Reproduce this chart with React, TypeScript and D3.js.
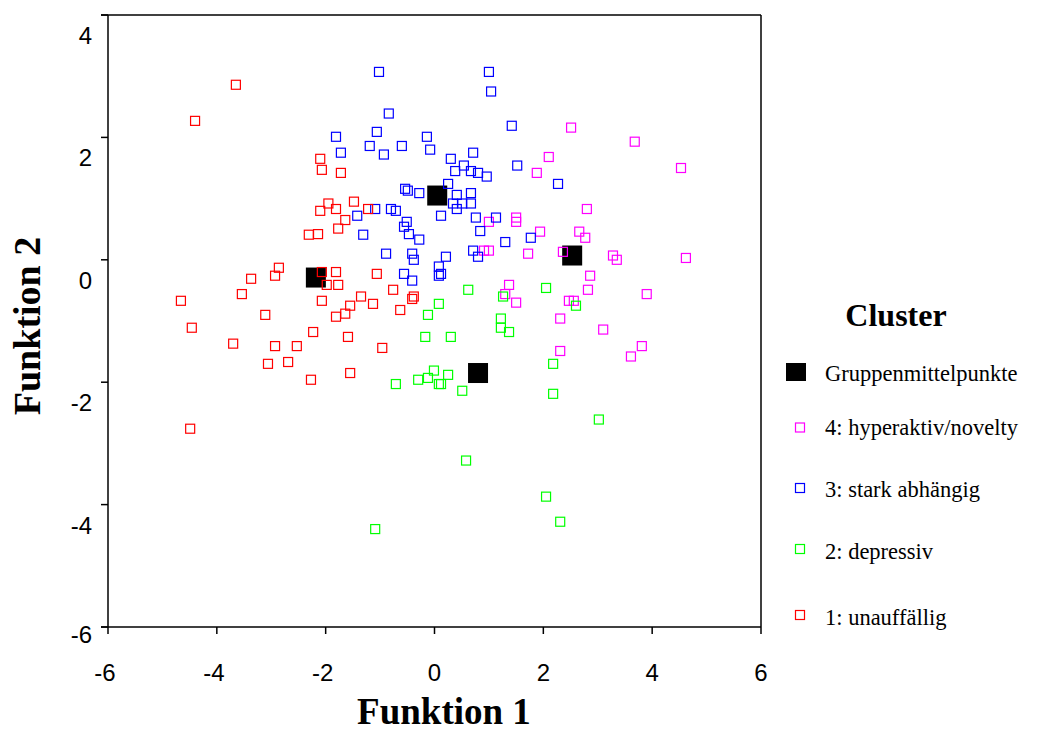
import React from 'react';
import * as d3 from 'd3';

const xTicks: number[] = [-6, -4, -2, 0, 2, 4, 6];
const yTicks: number[] = [4, 2, 0, -2, -4, -6];

// 1: unauffällig
const cluster1: [number, number][] = [
  [-3.65, 2.86], [-4.40, 2.27], [-2.10, 1.65], [-2.07, 1.47], [-1.72, 1.42], [-1.95, 0.92],
  [-1.81, 0.83], [-2.10, 0.80], [-1.48, 0.95], [-1.22, 0.83], [-1.64, 0.65], [-1.77, 0.51],
  [-2.14, 0.42], [-2.31, 0.41], [-2.86, -0.13], [-3.37, -0.31], [-2.93, -0.26], [-2.07, -0.20],
  [-1.98, -0.41], [-3.54, -0.56], [-4.66, -0.67], [-2.07, -0.67], [-3.11, -0.90], [-4.46, -1.11],
  [-2.23, -1.18], [-3.70, -1.37], [-2.93, -1.41], [-2.53, -1.41], [-3.06, -1.70], [-2.69, -1.67],
  [-2.27, -1.96], [-4.49, -2.76], [-1.81, -0.20], [-1.06, -0.23], [-1.77, -0.41], [-0.76, -0.49],
  [-0.38, -0.60], [-0.41, -0.64], [-1.35, -0.60], [-1.55, -0.75], [-1.13, -0.72], [-1.64, -0.88],
  [-1.81, -0.93], [-0.63, -0.82], [-1.59, -1.26], [-0.96, -1.44], [-1.55, -1.85],
];

// 2: depressiv
const cluster2: [number, number][] = [
  [0.62, -0.49], [0.08, -0.72], [-0.12, -0.90], [1.26, -0.60], [2.05, -0.46], [1.22, -0.96],
  [1.22, -1.11], [1.37, -1.18], [-0.17, -1.26], [0.30, -1.26], [-0.01, -1.81], [-0.12, -1.93],
  [0.25, -1.88], [-0.30, -1.96], [0.08, -2.03], [0.12, -2.03], [-0.71, -2.03], [0.51, -2.14],
  [2.60, -0.75], [2.18, -1.70], [2.18, -2.19], [3.02, -2.61], [-1.09, -4.40], [0.58, -3.28],
  [2.05, -3.87], [2.31, -4.28],
];

// 3: stark abhängig
const cluster3: [number, number][] = [
  [-1.02, 3.07], [1.00, 3.07], [1.04, 2.75], [-0.84, 2.39], [1.42, 2.19], [-1.81, 2.01],
  [-1.06, 2.09], [-0.14, 2.01], [-1.72, 1.75], [-1.19, 1.86], [-0.60, 1.86], [-0.93, 1.72],
  [-0.08, 1.80], [0.71, 1.75], [0.30, 1.65], [0.54, 1.54], [0.38, 1.45], [0.67, 1.45],
  [0.80, 1.42], [0.96, 1.36], [1.52, 1.54], [0.25, 1.24], [-0.54, 1.16], [-0.49, 1.13],
  [-0.28, 1.09], [0.41, 1.06], [0.67, 1.09], [0.34, 0.92], [0.51, 0.92], [0.67, 0.92],
  [0.41, 0.83], [0.12, 0.72], [0.76, 0.69], [1.13, 0.69], [-1.42, 0.72], [-1.09, 0.83],
  [-0.80, 0.83], [-0.71, 0.80], [-0.51, 0.62], [-0.56, 0.54], [-0.47, 0.42], [-0.28, 0.33],
  [-1.31, 0.41], [0.84, 0.47], [1.30, 0.29], [1.77, 0.36], [-0.89, 0.10], [-0.41, 0.10],
  [0.71, 0.15], [0.80, 0.05], [0.21, 0.05], [-0.38, 0.00], [-0.56, -0.23], [-0.41, -0.34],
  [0.08, -0.11], [0.08, -0.26], [0.12, -0.23], [2.27, 1.24],
];

// 4: hyperaktiv/novelty
const cluster4: [number, number][] = [
  [2.51, 2.16], [3.68, 1.93], [2.10, 1.68], [1.88, 1.42], [4.53, 1.50], [2.80, 0.83],
  [1.94, 0.46], [2.66, 0.46], [2.77, 0.36], [2.36, 0.13], [3.28, 0.07], [3.35, 0.00],
  [4.62, 0.03], [2.86, -0.26], [2.82, -0.49], [3.90, -0.56], [2.47, -0.67], [2.56, -0.67],
  [2.31, -0.96], [3.10, -1.14], [3.81, -1.41], [3.61, -1.58], [2.31, -1.49], [1.50, 0.69],
  [1.50, 0.62], [1.00, 0.62], [1.72, 0.10], [0.91, 0.15], [1.00, 0.15], [1.37, -0.41],
  [1.30, -0.56], [1.50, -0.70],
];

// Gruppenmittelpunkte (cluster 1..4)
const centroids: [number, number][] = [
  [-2.18, -0.29], [0.80, -1.85], [0.05, 1.05], [2.53, 0.07],
];

const clusterColors: string[] = ['#ff0000', '#00ff00', '#0000ff', '#ff00ff'];
const clusterLabels: string[] = ['1: unauffällig', '2: depressiv', '3: stark abhängig', '4: hyperaktiv/novelty'];
const clusters = [cluster1, cluster2, cluster3, cluster4];

const SANS = "'Liberation Sans', Arial, Helvetica, sans-serif";
const SERIF = "'Liberation Serif', 'Times New Roman', Times, serif";

export default function App() {
  const x = d3.scaleLinear().domain([-6, 6]).range([108, 761]);
  const y = d3.scaleLinear().domain([-6, 4]).range([627, 15]);
  const [x0, x1] = x.range();
  const [y0, y1] = [y(4), y(-6)];
  const ms = 9;
  const cs = 20;

  // legend: order top to bottom: centroid, 4, 3, 2, 1
  const legendRows = [
    { label: clusterLabels[3], color: clusterColors[3], cy: 427.5, base: 435 },
    { label: clusterLabels[2], color: clusterColors[2], cy: 488, base: 497 },
    { label: clusterLabels[1], color: clusterColors[1], cy: 549, base: 559 },
    { label: clusterLabels[0], color: clusterColors[0], cy: 615, base: 625 },
  ];

  return (
    <svg
      width={1048}
      height={731}
      style={{ position: 'absolute', left: 0, top: 0, background: '#fff' }}
    >
      <rect x={0} y={0} width={1048} height={731} fill="#fff" />
      {/* frame */}
      <g stroke="#000" strokeWidth={1.5} fill="none">
        <line x1={x0} y1={y0} x2={x0} y2={y1} />
        <line x1={x1} y1={y0} x2={x1} y2={y1} />
        <line x1={x0 - 7} y1={y0} x2={x1} y2={y0} />
        <line x1={x0 - 7} y1={y1} x2={x1} y2={y1} />
      </g>
      {/* y ticks */}
      <g>
        {yTicks.map((t) => (
          <g key={'y' + t}>
            <line x1={x0 - 7} x2={x0} y1={y(t)} y2={y(t)} stroke="#000" strokeWidth={1.5} />
            <text
              x={92}
              y={y(t) + (t === -6 ? 16 : 29)}
              textAnchor="end"
              fontFamily={SANS}
              fontSize={24}
              fill="#000"
            >
              {t}
            </text>
          </g>
        ))}
      </g>
      {/* x ticks */}
      <g>
        {xTicks.map((t) => (
          <g key={'x' + t}>
            <line x1={x(t)} x2={x(t)} y1={y1} y2={y1 + 7} stroke="#000" strokeWidth={1.5} />
            <text
              x={x(t) - (t < 0 ? 3 : 0)}
              y={681}
              textAnchor="middle"
              fontFamily={SANS}
              fontSize={24}
              fill="#000"
            >
              {t}
            </text>
          </g>
        ))}
      </g>
      {/* centroids */}
      <g>
        {centroids.map((c, i) => (
          <rect
            key={'c' + i}
            x={x(c[0]) - cs / 2}
            y={y(c[1]) - cs / 2}
            width={cs}
            height={cs}
            fill="#000"
          />
        ))}
      </g>
      {/* cases */}
      {[3, 2, 1, 0].map((ci) => (
        <g key={'cl' + ci} fill="none" stroke={clusterColors[ci]} strokeWidth={1.2}>
          {clusters[ci].map((p, i) => (
            <rect
              key={i}
              x={x(p[0]) - ms / 2}
              y={y(p[1]) - ms / 2}
              width={ms}
              height={ms}
            />
          ))}
        </g>
      ))}
      {/* axis titles */}
      <text
        x={444}
        y={724}
        textAnchor="middle"
        fontFamily={SERIF}
        fontWeight="bold"
        fontSize={37}
        fill="#000"
      >
        Funktion 1
      </text>
      <text
        transform="translate(40,326) rotate(-90)"
        textAnchor="middle"
        fontFamily={SERIF}
        fontWeight="bold"
        fontSize={38}
        fill="#000"
      >
        Funktion 2
      </text>
      {/* legend */}
      <text x={896} y={326} textAnchor="middle" fontFamily={SERIF} fontWeight="bold" fontSize={32} fill="#000">
        Cluster
      </text>
      <rect x={786} y={363} width={20} height={18} fill="#000" />
      <text x={825} y={381} fontFamily={SERIF} fontSize={22.5} fill="#000">
        Gruppenmittelpunkte
      </text>
      {legendRows.map((r) => (
        <g key={r.label}>
          <rect x={795.5} y={r.cy - 4.5} width={ms} height={ms} fill="none" stroke={r.color} strokeWidth={1.2} />
          <text x={825} y={r.base} fontFamily={SERIF} fontSize={22.5} fill="#000">
            {r.label}
          </text>
        </g>
      ))}
    </svg>
  );
}
